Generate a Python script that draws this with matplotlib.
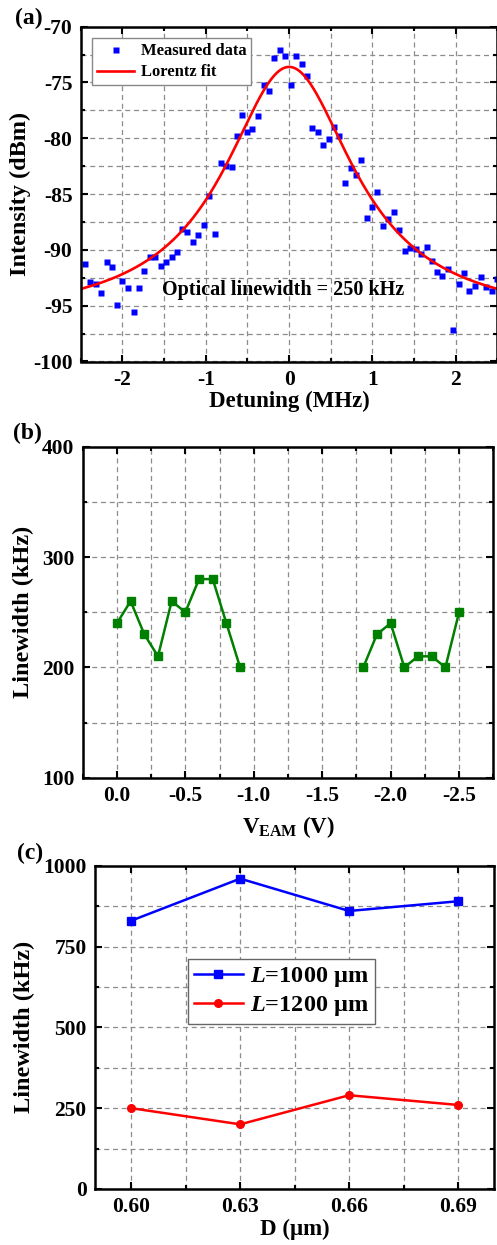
import matplotlib
matplotlib.use("Agg")
import matplotlib.pyplot as plt
from matplotlib.ticker import MultipleLocator
import numpy as np

plt.rcParams['font.family'] = ['Liberation Serif', 'DejaVu Serif']
plt.rcParams['font.weight'] = 'bold'
plt.rcParams['axes.labelweight'] = 'bold'
plt.rcParams['axes.unicode_minus'] = False
plt.rcParams['mathtext.fontset'] = 'custom'
plt.rcParams['mathtext.rm'] = 'Liberation Serif:bold'
plt.rcParams['mathtext.bf'] = 'Liberation Serif:bold'
plt.rcParams['mathtext.it'] = 'Liberation Serif:bold:italic'

# (a) measured spectrum
detuning = [-2.45, -2.385, -2.32, -2.26, -2.19, -2.125, -2.06, -2.00, -1.93, -1.86,
            -1.80, -1.74, -1.67, -1.61, -1.54, -1.48, -1.41, -1.35, -1.28, -1.22,
            -1.15, -1.09, -1.02, -0.96, -0.89, -0.82, -0.76, -0.69, -0.63, -0.56,
            -0.50, -0.44, -0.37, -0.30, -0.24, -0.18, -0.11, -0.044, 0.024, 0.088,
            0.15, 0.216, 0.28, 0.35, 0.41, 0.48, 0.54, 0.60, 0.67, 0.74,
            0.80, 0.86, 0.93, 1.00, 1.06, 1.125, 1.19, 1.26, 1.32, 1.39,
            1.45, 1.52, 1.58, 1.65, 1.71, 1.78, 1.84, 1.905, 1.97, 2.04,
            2.10, 2.16, 2.23, 2.30, 2.36, 2.43, 2.49]
intensity = [-91.3, -92.85, -93.06, -93.9, -91.04, -91.5, -94.9, -92.77, -93.45, -95.6,
             -93.4, -91.9, -90.6, -90.6, -91.4, -91.06, -90.6, -90.2, -88.1, -88.4,
             -89.3, -88.7, -87.75, -85.2, -88.6, -82.2, -82.5, -82.6, -79.8, -77.9,
             -79.4, -79.2, -78.0, -75.2, -75.8, -72.8, -72.05, -72.65, -75.2, -72.6,
             -73.3, -74.4, -79.1, -79.4, -80.6, -80.1, -78.95, -79.8, -84.0, -82.7,
             -83.3, -81.9, -87.1, -86.2, -84.8, -87.9, -87.2, -86.6, -88.2, -90.1,
             -89.8, -89.96, -90.35, -89.7, -90.95, -92.0, -92.3, -91.7, -97.2, -93.1,
             -92.05, -93.7, -93.2, -92.4, -93.3, -93.7, -92.6]

# Lorentz fit parameters (offset, height, FWHM, centre)
fit_y0 = -96.4
fit_h = 22.8
fit_w = 1.91
fit_xc = 0.0

# (b) linewidth vs EAM voltage, two measured segments
v_eam_1 = [0.0, -0.1, -0.2, -0.3, -0.4, -0.5, -0.6, -0.7, -0.8, -0.9]
lw_1 = [240, 260, 230, 210, 260, 250, 280, 280, 240, 200]
v_eam_2 = [-1.8, -1.9, -2.0, -2.1, -2.2, -2.3, -2.4, -2.5]
lw_2 = [200, 230, 240, 200, 210, 210, 200, 250]

# (c) linewidth vs D
d_um = [0.60, 0.63, 0.66, 0.69]
lw_1000 = [830, 960, 860, 890]
lw_1200 = [250, 200, 290, 260]

W, H = 497, 1245
fig = plt.figure(figsize=(W / 100, H / 100), dpi=100)


def add_ax(left, top, right, bottom):
    return fig.add_axes([left / W, 1 - bottom / H, (right - left) / W, (bottom - top) / H])


def style(ax):
    for s in ax.spines.values():
        s.set_linewidth(1.8)
    ax.tick_params(which='both', direction='in', top=True, right=True, width=1.5,
                   labelsize=15.5, pad=6)
    ax.tick_params(which='major', length=5)
    ax.tick_params(which='minor', length=3)
    ax.grid(True, which='both', linestyle=(0, (4, 3)), color='#8c8c8c', linewidth=0.9)
    ax.set_axisbelow(True)


# ---- (a)
ax1 = add_ax(80.8, 26.7, 497.5, 361.5)
ax1.plot(detuning, intensity, 's', color='#0000ff', ms=4, mec='none', label='Measured data')
xf = np.linspace(-2.5, 2.5, 400)
yf = fit_y0 + fit_h / (1 + (2 * (xf - fit_xc) / fit_w) ** 2)
ax1.plot(xf, yf, color='red', lw=1.9, label='Lorentz fit')
ax1.set_xlim(-2.5, 2.5)
ax1.set_ylim(-100, -70)
ax1.xaxis.set_major_locator(MultipleLocator(1))
ax1.xaxis.set_minor_locator(MultipleLocator(0.5))
ax1.yaxis.set_major_locator(MultipleLocator(5))
ax1.yaxis.set_minor_locator(MultipleLocator(2.5))
style(ax1)
ax1.set_xlabel('Detuning (MHz)', fontsize=16.5, labelpad=1)
ax1.set_ylabel('Intensity (dBm)', fontsize=17.5, labelpad=1)
leg = ax1.legend(loc='upper left', fontsize=12, frameon=True, fancybox=False,
                 edgecolor='#888888', framealpha=1, borderaxespad=0.7,
                 handlelength=2.2, handletextpad=0.4, borderpad=0.3, labelspacing=0.3,
                 numpoints=1)
leg.get_frame().set_linewidth(1.0)
ax1.text(-1.52, -93.6, 'Optical linewidth = 250 kHz', fontsize=14.5, va='center', ha='left')

# ---- (b)
ax2 = add_ax(82.7, 446.7, 493.3, 777.7)
ax2.plot(v_eam_1, lw_1, '-s', color='#008000', lw=1.8, ms=5.5)
ax2.plot(v_eam_2, lw_2, '-s', color='#008000', lw=1.8, ms=5.5)
ax2.set_xlim(0.25, -2.75)
ax2.set_ylim(100, 400)
ax2.xaxis.set_major_locator(MultipleLocator(0.5))
ax2.xaxis.set_minor_locator(MultipleLocator(0.25))
ax2.yaxis.set_major_locator(MultipleLocator(100))
ax2.yaxis.set_minor_locator(MultipleLocator(50))
style(ax2)
ax2.set_xlabel(r'V$_{\mathrm{EAM}}$ (V)', fontsize=16.5, labelpad=6)
ax2.set_ylabel('Linewidth (kHz)', fontsize=17.5, labelpad=6)

# ---- (c)
ax3 = add_ax(95, 865.7, 494.3, 1189)
ax3.plot(d_um, lw_1000, '-s', color='#0000ff', lw=1.8, ms=5.5, label=r'$L$=1000 μm')
ax3.plot(d_um, lw_1200, '-o', color='#ff0000', lw=1.8, ms=5.5, label=r'$L$=1200 μm')
ax3.set_xlim(0.59, 0.70)
ax3.set_ylim(0, 1000)
ax3.set_xticks(d_um)
ax3.xaxis.set_major_formatter(plt.FormatStrFormatter('%.2f'))
ax3.xaxis.set_minor_locator(MultipleLocator(0.015))
ax3.yaxis.set_major_locator(MultipleLocator(250))
ax3.yaxis.set_minor_locator(MultipleLocator(125))
style(ax3)
ax3.set_xlabel('D (μm)', fontsize=16.5, labelpad=1)
ax3.set_ylabel('Linewidth (kHz)', fontsize=17.5, labelpad=6)
leg3 = ax3.legend(loc='upper left', bbox_to_anchor=(0.233, 0.711), borderaxespad=0,
                  fontsize=17.5, frameon=True, fancybox=False, edgecolor='#666666',
                  framealpha=1, handlelength=2.0, handletextpad=0.3, borderpad=0.25,
                  labelspacing=0.2)
leg3.get_frame().set_linewidth(1.0)

fig.text(15 / W, 1 - 18 / H, '(a)', fontsize=17, va='center', ha='left')
fig.text(13 / W, 1 - 433 / H, '(b)', fontsize=17, va='center', ha='left')
fig.text(17 / W, 1 - 853 / H, '(c)', fontsize=17, va='center', ha='left')

fig.savefig('out.png', dpi=100)
